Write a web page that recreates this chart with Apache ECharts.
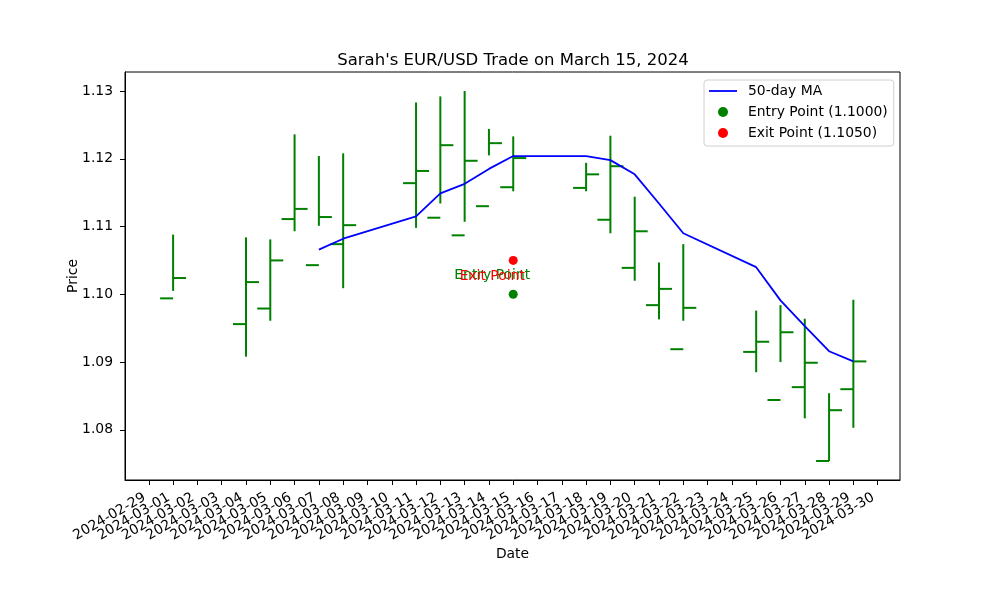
<!DOCTYPE html>
<html>
<head>
<meta charset="utf-8">
<script src="https://cdn.jsdelivr.net/npm/echarts@6/dist/echarts.min.js"></script>
<style>
  html, body { margin: 0; padding: 0; background: #fff; }
  #chart { width: 1000px; height: 600px; }
</style>
</head>
<body>
<div id="chart"></div>
<script>
// trading days (weekends are missing)
var dates = ['2024-03-01', '2024-03-04', '2024-03-05', '2024-03-06', '2024-03-07', '2024-03-08',
  '2024-03-11', '2024-03-12', '2024-03-13', '2024-03-14', '2024-03-15',
  '2024-03-18', '2024-03-19', '2024-03-20', '2024-03-21', '2024-03-22',
  '2024-03-25', '2024-03-26', '2024-03-27', '2024-03-28', '2024-03-29'];
var opens = [1.0994, 1.0956, 1.0979, 1.1111, 1.1043, 1.1074, 1.1164, 1.1113, 1.1087, 1.1130, 1.1158,
  1.1157, 1.1110, 1.1039, 1.0984, 1.0919, 1.0915, 1.0844, 1.0863, 1.0754, 1.0860];
var highs = [1.1088, 1.1084, 1.1081, 1.1236, 1.1204, 1.1208, 1.1283, 1.1292, 1.1300, 1.1244, 1.1233,
  1.1194, 1.1234, 1.1144, 1.1047, 1.1074, 1.0976, 1.0984, 1.0964, 1.0854, 1.0992];
var lows = [1.1005, 1.0908, 1.0961, 1.1093, 1.1101, 1.1009, 1.1098, 1.1134, 1.1107, 1.1205, 1.1152,
  1.1152, 1.1090, 1.1020, 1.0963, 1.0961, 1.0885, 1.0900, 1.0817, 1.0754, 1.0803];
var closes = [1.1024, 1.1018, 1.1050, 1.1126, 1.1114, 1.1102, 1.1182, 1.1220, 1.1197, 1.1223, 1.1201,
  1.1177, 1.1189, 1.1093, 1.1008, 1.0980, 1.0930, 1.0944, 1.0899, 1.0829, 1.0901];

// moving average
var maDates = ['2024-03-07', '2024-03-08', '2024-03-11', '2024-03-12', '2024-03-13', '2024-03-14',
  '2024-03-15', '2024-03-18', '2024-03-19', '2024-03-20', '2024-03-21', '2024-03-22',
  '2024-03-25', '2024-03-26', '2024-03-27', '2024-03-28', '2024-03-29'];
var maValues = [1.1066, 1.1082, 1.1115, 1.1149, 1.1163, 1.1185, 1.1204, 1.1204, 1.1198, 1.1177,
  1.1134, 1.1090, 1.1040, 1.0991, 1.0953, 1.0916, 1.0901];

var tradeDate = '2024-03-15';
var entryPrice = 1.1000;
var exitPrice = 1.1050;

var tickDates = ['2024-02-29', '2024-03-01', '2024-03-02', '2024-03-03', '2024-03-04', '2024-03-05',
  '2024-03-06', '2024-03-07', '2024-03-08', '2024-03-09', '2024-03-10', '2024-03-11',
  '2024-03-12', '2024-03-13', '2024-03-14', '2024-03-15', '2024-03-16', '2024-03-17',
  '2024-03-18', '2024-03-19', '2024-03-20', '2024-03-21', '2024-03-22', '2024-03-23',
  '2024-03-24', '2024-03-25', '2024-03-26', '2024-03-27', '2024-03-28', '2024-03-29', '2024-03-30'];
var yTicks = [1.08, 1.09, 1.10, 1.11, 1.12, 1.13];

var green = '#008000';
var font = 'DejaVu Sans';
var xMin = -0.98, xMax = 30.92;

function dayNum(s) {
  return (Date.parse(s) - Date.parse(tickDates[0])) / 86400000;
}

var ohlcData = dates.map(function (d, i) {
  return [dayNum(d), opens[i], highs[i], lows[i], closes[i]];
});
var maData = maDates.map(function (d, i) {
  return [dayNum(d), maValues[i]];
});
var tickNums = tickDates.map(dayNum);
// empty labels at both ends so the real first/last dates are not dropped
var labelNums = [xMin].concat(tickNums, [xMax]);

var chartDom = document.getElementById('chart');
var myChart = echarts.init(chartDom);
var option;

option = {
  animation: false,
  backgroundColor: '#fff',
  textStyle: { fontFamily: font },
  title: {
    text: "Sarah's EUR/USD Trade on March 15, 2024",
    left: 508,
    textAlign: 'center',
    top: 47,
    textStyle: { fontFamily: font, fontSize: 16.5, fontWeight: 'normal', color: '#000' }
  },
  legend: {
    orient: 'vertical',
    left: 704,
    top: 80,
    padding: [4, 6, 6, 5],
    itemGap: 7,
    itemWidth: 28,
    itemHeight: 10,
    borderColor: '#d0d0d0',
    borderWidth: 1,
    borderRadius: 3,
    backgroundColor: 'rgba(255,255,255,0.8)',
    textStyle: { fontFamily: font, fontSize: 13.9, color: '#000', lineHeight: 14, padding: [0, 0, 0, 6] },
    data: [
      { name: '50-day MA', icon: 'path://M0,0 L28,0 L28,1.8 L0,1.8 Z' },
      { name: 'Entry Point (1.1000)', icon: 'circle' },
      { name: 'Exit Point (1.1050)', icon: 'circle' }
    ]
  },
  grid: {
    left: 125,
    right: 100,
    top: 72,
    bottom: 120,
    show: true,
    borderColor: '#000',
    borderWidth: 1,
    backgroundColor: 'transparent'
  },
  xAxis: {
    type: 'value',
    min: xMin,
    max: xMax,
    name: 'Date',
    nameLocation: 'middle',
    nameGap: 67,
    nameMoveOverlap: false,
    nameTextStyle: { fontFamily: font, fontSize: 13.9, color: '#000' },
    axisLine: { onZero: false, lineStyle: { color: '#000' } },
    axisTick: { length: 5, lineStyle: { color: '#000' }, customValues: tickNums },
    axisLabel: {
      customValues: labelNums,
      showMinLabel: false,
      showMaxLabel: false,
      hideOverlap: false,
      rotate: 30,
      margin: 14,
      padding: [0, 5, 0, 0],
      fontSize: 13.9,
      color: '#000',
      fontFamily: font,
      formatter: function (v) {
        var k = Math.round(v);
        return Math.abs(v - k) < 1e-6 && tickDates[k] ? tickDates[k] : '';
      }
    },
    splitLine: { show: false }
  },
  yAxis: {
    type: 'value',
    min: 1.0726,
    max: 1.1328,
    name: 'Price',
    nameLocation: 'middle',
    nameGap: 45,
    nameMoveOverlap: false,
    nameTextStyle: { fontFamily: font, fontSize: 13.9, color: '#000' },
    axisLine: { show: true, onZero: false, lineStyle: { color: '#000' } },
    axisTick: { show: true, length: 5, lineStyle: { color: '#000' }, customValues: yTicks },
    axisLabel: {
      customValues: yTicks,
      showMinLabel: true,
      showMaxLabel: true,
      margin: 12,
      fontSize: 13.9,
      color: '#000',
      fontFamily: font,
      formatter: function (v) { return v.toFixed(2); }
    },
    splitLine: { show: false }
  },
  series: [
    {
      name: 'OHLC',
      type: 'custom',
      data: ohlcData,
      encode: { x: 0, y: [1, 2, 3, 4] },
      renderItem: function (params, api) {
        var x = api.value(0);
        var o = api.coord([x, api.value(1)]);
        var h = api.coord([x, api.value(2)]);
        var l = api.coord([x, api.value(3)]);
        var c = api.coord([x, api.value(4)]);
        var w = 13;
        var style = { stroke: green, lineWidth: 2 };
        return {
          type: 'group',
          children: [
            { type: 'line', shape: { x1: h[0], y1: h[1], x2: l[0], y2: l[1] }, style: style },
            { type: 'line', shape: { x1: o[0] - w, y1: o[1], x2: o[0], y2: o[1] }, style: style },
            { type: 'line', shape: { x1: c[0], y1: c[1], x2: c[0] + w, y2: c[1] }, style: style }
          ]
        };
      },
      z: 2
    },
    {
      name: '50-day MA',
      type: 'line',
      data: maData,
      showSymbol: false,
      symbol: 'none',
      color: '#0000ff',
      lineStyle: { color: '#0000ff', width: 1.8 },
      z: 3
    },
    {
      name: 'Entry Point (1.1000)',
      type: 'scatter',
      data: [[dayNum(tradeDate), entryPrice]],
      symbolSize: 9,
      itemStyle: { color: green, opacity: 1 },
      label: {
        show: true,
        formatter: 'Entry Point',
        position: 'inside',
        offset: [-21, -19],
        color: green,
        fontFamily: font,
        fontSize: 13.9
      },
      z: 4
    },
    {
      name: 'Exit Point (1.1050)',
      type: 'scatter',
      data: [[dayNum(tradeDate), exitPrice]],
      symbolSize: 9,
      itemStyle: { color: '#ff0000', opacity: 1 },
      label: {
        show: true,
        formatter: 'Exit Point',
        position: 'inside',
        offset: [-21, 16],
        color: '#ff0000',
        fontFamily: font,
        fontSize: 13.9
      },
      z: 5
    }
  ]
};
option && myChart.setOption(option);
</script>
</body>
</html>
